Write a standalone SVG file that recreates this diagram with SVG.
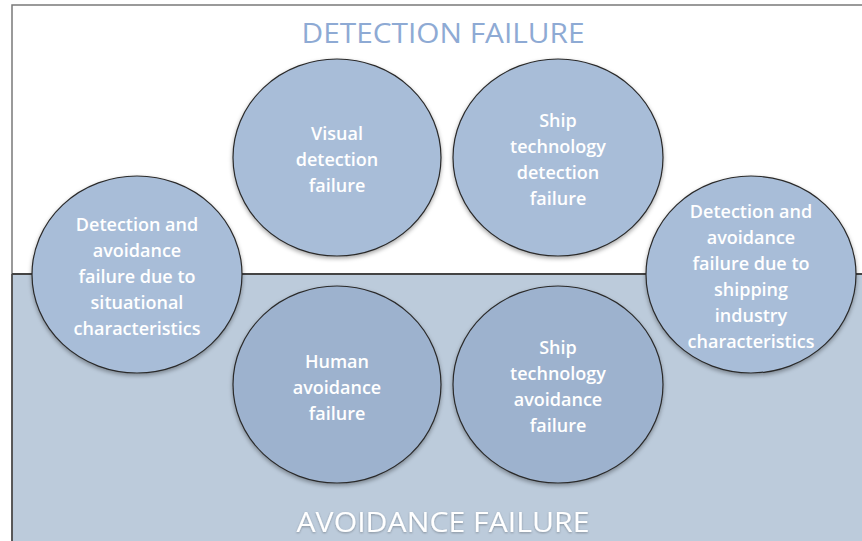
<svg xmlns="http://www.w3.org/2000/svg" width="862" height="541" viewBox="0 0 862 541">
<defs>
<filter id="sh" x="-20%" y="-20%" width="140%" height="140%">
<feDropShadow dx="0" dy="2" stdDeviation="2" flood-color="#000" flood-opacity="0.35"/>
</filter>
<filter id="tsh" x="-10%" y="-30%" width="120%" height="160%">
<feDropShadow dx="0" dy="1" stdDeviation="1" flood-color="#000" flood-opacity="0.3"/>
</filter>
</defs>
<style>
.c{stroke:#2a2a2a;stroke-width:1.2;filter:url(#sh)}
.top{fill:#a8bdd8}
.bot{fill:#9db2ce}
.t{font-family:"Open Sans","Liberation Sans",sans-serif;font-size:18px;font-weight:600;fill:#ffffff;text-anchor:middle}
.title{font-family:"Open Sans","Liberation Sans",sans-serif;font-size:28px;text-anchor:middle}
</style>
<rect x="0" y="0" width="862" height="541" fill="#ffffff"/>
<g id="regions">
<rect x="12" y="274" width="852" height="270" fill="#bccbdb"/>
<path d="M12 541 L12 5 L862 5" fill="none" stroke="#7a7a7a" stroke-width="1.5"/>
<line x1="12" y1="274" x2="862" y2="274" stroke="#444" stroke-width="2"/>
<line x1="12" y1="274" x2="12" y2="541" stroke="#444" stroke-width="1.5"/>
<text class="title" x="443" y="43" fill="#8eaad4" textLength="283" lengthAdjust="spacingAndGlyphs">DETECTION FAILURE</text>
<text class="title" x="443" y="532" fill="#ffffff" filter="url(#tsh)" textLength="293" lengthAdjust="spacingAndGlyphs">AVOIDANCE FAILURE</text>
</g>
<g id="connectors"></g>
<g id="visual-detection">
<ellipse class="c top" cx="337" cy="157.5" rx="104" ry="98.5"/>
<text class="t" x="337" y="140">Visual</text>
<text class="t" x="337" y="166">detection</text>
<text class="t" x="337" y="192">failure</text>
</g>
<g id="ship-tech-detection">
<ellipse class="c top" cx="558" cy="157.5" rx="105" ry="98.5"/>
<text class="t" x="558" y="127">Ship</text>
<text class="t" x="558" y="153">technology</text>
<text class="t" x="558" y="179">detection</text>
<text class="t" x="558" y="205">failure</text>
</g>
<g id="situational">
<ellipse class="c top" cx="137" cy="274.5" rx="105" ry="98.5"/>
<text class="t" x="137" y="231">Detection and</text>
<text class="t" x="137" y="257">avoidance</text>
<text class="t" x="137" y="283">failure due to</text>
<text class="t" x="137" y="309">situational</text>
<text class="t" x="137" y="335">characteristics</text>
</g>
<g id="shipping-industry">
<ellipse class="c top" cx="751" cy="274.5" rx="105" ry="98.5"/>
<text class="t" x="751" y="218">Detection and</text>
<text class="t" x="751" y="244">avoidance</text>
<text class="t" x="751" y="270">failure due to</text>
<text class="t" x="751" y="296">shipping</text>
<text class="t" x="751" y="322">industry</text>
<text class="t" x="751" y="348">characteristics</text>
</g>
<g id="human-avoidance">
<ellipse class="c bot" cx="337" cy="384.5" rx="104" ry="98.5"/>
<text class="t" x="337" y="368">Human</text>
<text class="t" x="337" y="394">avoidance</text>
<text class="t" x="337" y="420">failure</text>
</g>
<g id="ship-tech-avoidance">
<ellipse class="c bot" cx="558" cy="384.5" rx="105" ry="98.5"/>
<text class="t" x="558" y="354">Ship</text>
<text class="t" x="558" y="380">technology</text>
<text class="t" x="558" y="406">avoidance</text>
<text class="t" x="558" y="432">failure</text>
</g>
</svg>
